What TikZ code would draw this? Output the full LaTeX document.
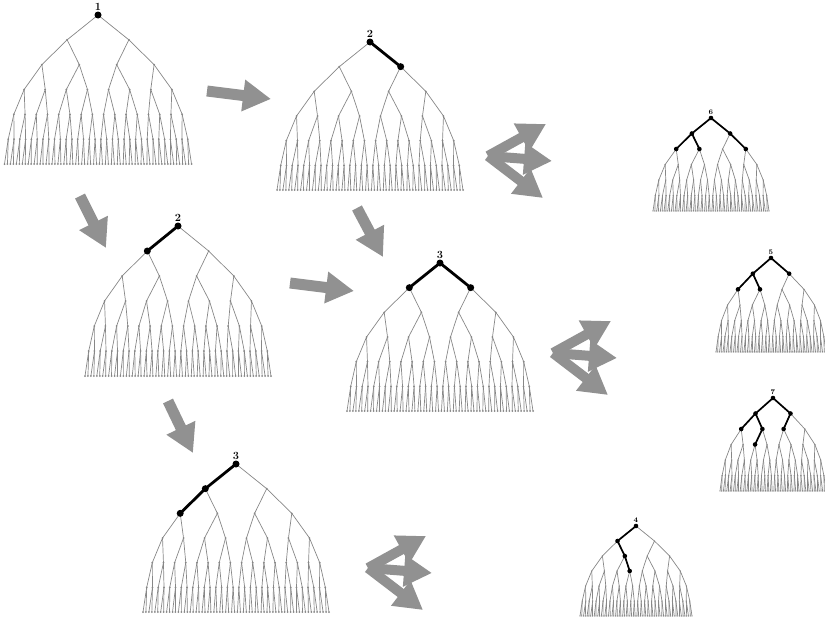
\documentclass[tikz,border=0pt]{standalone}
\usepackage{tikz}
\usetikzlibrary{arrows.meta}
\usetikzlibrary{calc}
\definecolor{edgegray}{RGB}{135,135,135}
\definecolor{arrowgray}{RGB}{145,145,145}

\tikzset{
  treeedge/.style={draw=edgegray, line width=0.7pt},
  treedot/.style={fill=edgegray},
  hledge/.style={draw=black, line width=2.8pt},
  hlthin/.style={draw=black, line width=1.7pt},
  bigarrow/.style={draw=arrowgray, line width=11pt, -{Triangle[length=28pt,width=30pt]}},
  lbl/.style={font=\fontsize{11}{11}\selectfont\bfseries, inner sep=0pt},
  smalllbl/.style={font=\fontsize{7}{7}\selectfont\bfseries, inner sep=0pt},
}

% binary tree of depth 6: name, centre x, root y, half width, height, dot radius
\newcommand{\bintree}[6]{
  \coordinate (#1-0-0) at (#2,#3);
  \foreach \k/\f in {1/0.33,2/0.6,3/0.79,4/0.9,5/0.96,6/1} {
    \pgfmathtruncatemacro{\n}{2^\k-1}
    \foreach \i in {0,...,\n} {
      \pgfmathsetmacro{\xx}{#2-\f*#4+\i*2*\f*#4/\n}
      \pgfmathsetmacro{\yy}{#3+\k*#5/6}
      \coordinate (#1-\k-\i) at (\xx,\yy);
    }
  }
  % edges
  \foreach \k in {0,...,5} {
    \pgfmathtruncatemacro{\n}{2^\k-1}
    \pgfmathtruncatemacro{\kk}{\k+1}
    \foreach \i in {0,...,\n} {
      \pgfmathtruncatemacro{\lc}{2*\i}
      \pgfmathtruncatemacro{\rc}{2*\i+1}
      \draw[treeedge] (#1-\k-\i) -- (#1-\kk-\lc);
      \draw[treeedge] (#1-\k-\i) -- (#1-\kk-\rc);
    }
  }
  % dots
  \foreach \k in {1,...,6} {
    \pgfmathtruncatemacro{\n}{2^\k-1}
    \foreach \i in {0,...,\n} {
      \fill[treedot] (#1-\k-\i) circle (#6);
    }
  }
}

% three arrows fanning out from one tail
\newcommand{\fanarrow}[3]{
  \coordinate (#1-t) at (#2,#3);
  \coordinate (#1-u) at ($(#1-t)+(58,-32)$);
  \coordinate (#1-m) at ($(#1-t)+(64,5)$);
  \coordinate (#1-d) at ($(#1-t)+(55,42)$);
  \draw[bigarrow, line width=10pt] (#1-t) -- (#1-u);
  \draw[bigarrow, line width=10pt] (#1-t) -- (#1-m);
  \draw[bigarrow, line width=10pt] (#1-t) -- (#1-d);
}

\begin{document}
\begin{tikzpicture}[x=1pt,y=-1pt]
\useasboundingbox (0,0) rectangle (825,621);

% large trees
\bintree{A}{98}{15}{93.5}{149}{1pt}
\bintree{B}{370}{42}{93}{148}{1pt}
\bintree{C}{178}{226}{93}{150}{1pt}
\bintree{D}{440}{263}{93}{148}{1pt}
\bintree{E}{236}{464}{93}{148}{1pt}

% small trees
\bintree{F}{711}{118}{58}{93}{0.7pt}
\bintree{G}{771}{258}{55}{94}{0.7pt}
\bintree{H}{773}{398}{53}{93}{0.7pt}
\bintree{I}{636}{526}{56}{90}{0.7pt}

% expanded parts
\fill (A-0-0) circle (3.5pt);

\draw[hledge] (B-0-0) -- (B-1-1);
\foreach \p in {B-0-0,B-1-1} \fill (\p) circle (3.5pt);

\draw[hledge] (C-0-0) -- (C-1-0);
\foreach \p in {C-0-0,C-1-0} \fill (\p) circle (3.5pt);

\draw[hledge] (D-1-0) -- (D-0-0) -- (D-1-1);
\foreach \p in {D-0-0,D-1-0,D-1-1} \fill (\p) circle (3.5pt);

\draw[hledge] (E-0-0) -- (E-1-0) -- (E-2-0);
\foreach \p in {E-0-0,E-1-0,E-2-0} \fill (\p) circle (3.5pt);

\draw[hlthin] (F-2-0) -- (F-1-0) -- (F-0-0) -- (F-1-1) -- (F-2-3);
\draw[hlthin] (F-1-0) -- (F-2-1);
\foreach \p in {F-0-0,F-1-0,F-1-1,F-2-0,F-2-1,F-2-3} \fill (\p) circle (2.3pt);

\draw[hlthin] (G-2-0) -- (G-1-0) -- (G-0-0) -- (G-1-1);
\draw[hlthin] (G-1-0) -- (G-2-1);
\foreach \p in {G-0-0,G-1-0,G-1-1,G-2-0,G-2-1} \fill (\p) circle (2.3pt);

\draw[hlthin] (H-2-0) -- (H-1-0) -- (H-0-0) -- (H-1-1) -- (H-2-2);
\draw[hlthin] (H-1-0) -- (H-2-1) -- (H-3-2);
\foreach \p in {H-0-0,H-1-0,H-1-1,H-2-0,H-2-1,H-2-2,H-3-2} \fill (\p) circle (2.3pt);

\draw[hlthin] (I-0-0) -- (I-1-0) -- (I-2-1) -- (I-3-3);
\foreach \p in {I-0-0,I-1-0,I-2-1,I-3-3} \fill (\p) circle (2.3pt);

% labels
\node[lbl] (A-lbl) at ([yshift=8pt]A-0-0) {1};
\node[lbl] (B-lbl) at ([yshift=8pt]B-0-0) {2};
\node[lbl] (C-lbl) at ([yshift=8pt]C-0-0) {2};
\node[lbl] (D-lbl) at ([yshift=8pt]D-0-0) {3};
\node[lbl] (E-lbl) at ([yshift=8pt]E-0-0) {3};
\node[smalllbl] (F-lbl) at ([yshift=5.5pt]F-0-0) {6};
\node[smalllbl] (G-lbl) at ([yshift=5.5pt]G-0-0) {5};
\node[smalllbl] (H-lbl) at ([yshift=5.5pt]H-0-0) {7};
\node[smalllbl] (I-lbl) at ([yshift=5.5pt]I-0-0) {4};

% arrows between steps
\coordinate (a1s) at (207,91);  \coordinate (a1e) at (271,99);
\coordinate (a2s) at (80,196);  \coordinate (a2e) at (106,248);
\coordinate (a3s) at (290,283); \coordinate (a3e) at (354,291);
\coordinate (a4s) at (357,208); \coordinate (a4e) at (383,257);
\coordinate (a5s) at (168,401); \coordinate (a5e) at (193,453);
\draw[bigarrow] (a1s) -- (a1e);
\draw[bigarrow] (a2s) -- (a2e);
\draw[bigarrow] (a3s) -- (a3e);
\draw[bigarrow] (a4s) -- (a4e);
\draw[bigarrow] (a5s) -- (a5e);

\fanarrow{f1}{488}{156}
\fanarrow{f2}{553}{353}
\fanarrow{f3}{368}{568}

\end{tikzpicture}
\end{document}
